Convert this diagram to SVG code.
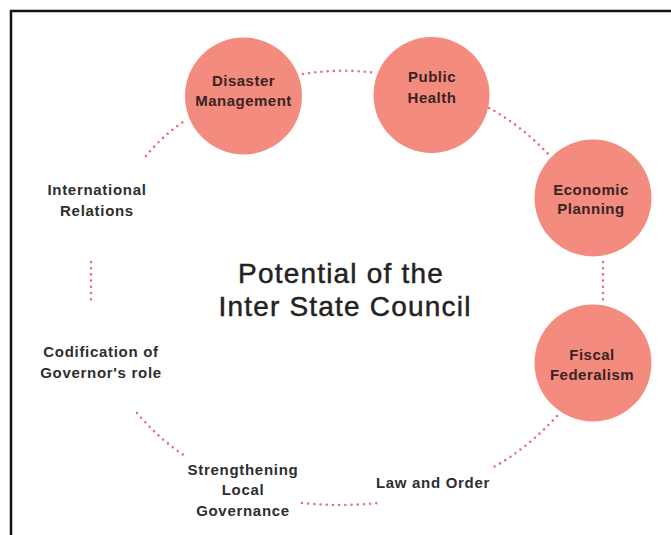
<svg xmlns="http://www.w3.org/2000/svg" width="671" height="535" viewBox="0 0 671 535">
<style>
.node circle{fill:#f38b7e}
.nl{font-family:"Liberation Sans",Arial,sans-serif;font-weight:bold;font-size:15px;fill:#3a2424;text-anchor:middle;letter-spacing:0.5px}
.sl{font-family:"Liberation Sans",Arial,sans-serif;font-weight:bold;font-size:15px;fill:#2e2e2e;text-anchor:middle;letter-spacing:0.7px}
.title{font-family:"Liberation Sans",Arial,sans-serif;font-size:28px;fill:#222;stroke:#222;stroke-width:0.45;text-anchor:middle;letter-spacing:1.2px}
.dot{fill:none;stroke:#e5727a;stroke-width:2.6;stroke-linecap:round;stroke-dasharray:0 6.2}
</style>
<rect width="671" height="535" fill="#fff"/>
<path d="M11,535 V11 H671" fill="none" stroke="#111" stroke-width="2.5"/>
<g id="connectors">
<path class="dot" d="M146,156 Q163,135 186,120"/>
<path class="dot" d="M303,74 Q340,68 376,73"/>
<path class="dot" d="M489,108 Q522,126 550,156"/>
<path class="dot" d="M603,262 L603,302"/>
<path class="dot" d="M557,416 Q526,450 490,469"/>
<path class="dot" d="M302,503 Q340,507 378,503"/>
<path class="dot" d="M137,413 Q158,438 185,456"/>
<path class="dot" d="M91,262 L91,302"/>
</g>
<g id="title">
<text class="title" x="341" y="283">Potential of the</text>
<text class="title" x="345" y="316">Inter State Council</text>
</g>
<g id="disaster-management" class="node">
<circle cx="243.5" cy="96" r="58.5"/>
<text class="nl" x="243.5" y="86">Disaster</text>
<text class="nl" x="243.5" y="106">Management</text>
</g>
<g id="public-health" class="node">
<circle cx="431.5" cy="95" r="58"/>
<text class="nl" x="432" y="82">Public</text>
<text class="nl" x="432" y="103">Health</text>
</g>
<g id="economic-planning" class="node">
<circle cx="593" cy="198" r="58.5"/>
<text class="nl" x="591" y="195">Economic</text>
<text class="nl" x="591" y="214">Planning</text>
</g>
<g id="fiscal-federalism" class="node">
<circle cx="593" cy="363" r="58.5"/>
<text class="nl" x="592" y="360">Fiscal</text>
<text class="nl" x="592" y="380">Federalism</text>
</g>
<g id="international-relations">
<text class="sl" x="97" y="195">International</text>
<text class="sl" x="97" y="216">Relations</text>
</g>
<g id="codification">
<text class="sl" x="101" y="357">Codification of</text>
<text class="sl" x="101" y="378">Governor's role</text>
</g>
<g id="strengthening-local-governance">
<text class="sl" x="243" y="475">Strengthening</text>
<text class="sl" x="243" y="495">Local</text>
<text class="sl" x="243" y="516">Governance</text>
</g>
<g id="law-and-order">
<text class="sl" x="433" y="488">Law and Order</text>
</g>
</svg>
